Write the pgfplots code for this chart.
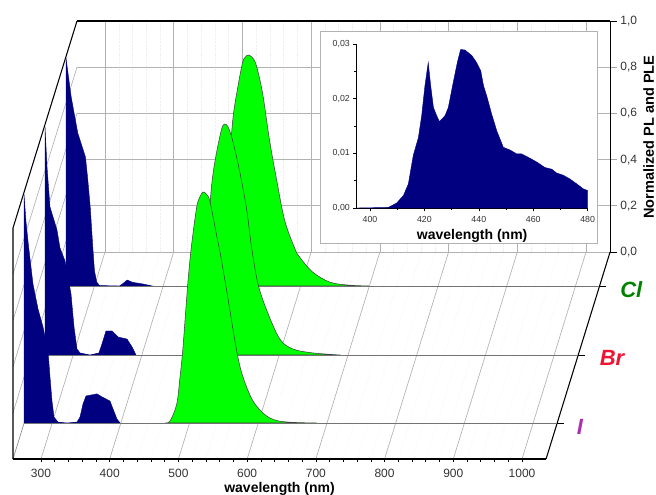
\documentclass[border=0pt]{standalone}
\usepackage{pgfplots}
\pgfplotsset{compat=1.18}
\usepackage{fontspec}
\setmainfont{Liberation Sans}
\definecolor{navyb}{RGB}{0,0,128}
\definecolor{plg}{RGB}{0,255,0}
\definecolor{clg}{RGB}{0,130,0}
\definecolor{brr}{RGB}{240,20,50}
\definecolor{ipp}{RGB}{170,50,170}
\pgfplotsset{
  /pgf/number format/assume math mode=true,
  /pgf/number format/set thousands separator={},
  series/.style={hide axis,clip=false,anchor=south west,xmin=259.25,xmax=1035,ymin=0,ymax=1,
    x={(0.51536pt,0)},y={(0,173.25pt)}},
  ple/.style={fill=navyb,draw=navyb,line width=0.3pt},
  pl/.style={fill=plg,draw=black!75,line width=0.4pt,smooth,tension=0.55},
  baseln/.style={draw=black!55,line width=0.5pt},
}
\begin{document}
\begin{tikzpicture}
\useasboundingbox (0,0) rectangle (492pt,370.5pt);
% back wall
\begin{axis}[at={(57.75pt,181.5pt)},anchor=south west,xmin=259.25,xmax=1035,ymin=0,ymax=1,
  x={(0.51536pt,0)},y={(0,173.25pt)},clip=false,
  xtick={300,400,...,1000},minor x tick num=4,xticklabels={},
  ytick={0,0.2,...,1.01},yticklabels={{0,0},{0,2},{0,4},{0,6},{0,8},{1,0}},
  ytick pos=right,yticklabel pos=right,
  grid=major,minor x tick style={draw=none},
  xminorgrids=true,
  minor grid style={black!8,densely dotted,line width=0.3pt},
  major grid style={black!30,line width=0.5pt},
  axis line style={draw=none},
  x tick style={draw=none},
  y tick style={draw=black!35,line width=0.5pt},
  tick align=outside,major tick length=5.25pt,
  tick label style={font=\fontsize{9}{10}\selectfont,text=black!80},
  yticklabel style={xshift=-1pt},
]
\draw[black,line width=0.8pt] (axis cs:259.25,1)--(axis cs:1035,1);
\draw[black,line width=0.8pt] (axis cs:1035,0)--(axis cs:1035,1);
\draw[black,line width=0.7pt] (axis cs:1035,0)--(axis cs:1045,0);
\draw[black,line width=0.7pt] (axis cs:1035,1)--(axis cs:1045,1);
\draw[black!30,line width=0.5pt] (axis cs:259.25,0)--(axis cs:1035,0);
\end{axis}
% floor
\begin{axis}[at={(9.75pt,26.25pt)},anchor=south west,xmin=259.25,xmax=1035,ymin=0,ymax=1,
  x={(0.51536pt,0)},y={(48pt,155.25pt)},clip=false,
  xtick={300,400,...,1000},minor x tick num=4,xticklabels={},ytick=\empty,
  xmajorgrids=true,xminorgrids=true,
  minor grid style={black!8,densely dotted,line width=0.3pt},
  major grid style={black!30,line width=0.5pt},
  axis line style={draw=none},
  x tick style={draw=none},minor x tick style={draw=none},
]
\draw[black,line width=0.8pt] (axis cs:1035,0)--(axis cs:1035,1);
\draw[black!45,line width=0.5pt] (axis cs:259.25,0)--(axis cs:259.25,1);
\end{axis}
% left wall
\begin{axis}[at={(9.75pt,26.25pt)},anchor=south west,xmin=0,xmax=1,ymin=0,ymax=1,
  x={(48pt,155.25pt)},y={(0,173.25pt)},clip=false,
  ytick={0.2,0.4,0.6,0.8},xtick=\empty,yticklabels={},
  ymajorgrids=true,
  major grid style={black!30,line width=0.5pt},
  axis line style={draw=none},y tick style={draw=none},
]
\draw[black,line width=0.8pt] (axis cs:0,0)--(axis cs:0,1)--(axis cs:1,1);
\end{axis}
% bottom scale
\begin{axis}[at={(9.75pt,26.25pt)},anchor=south west,xmin=259.25,xmax=1035,ymin=0,ymax=1,
  x={(0.51536pt,0)},y={(0,1pt)},
  axis x line=bottom,axis y line=none,axis line style={-,black,line width=0.8pt},
  xtick={300,400,...,1000},minor x tick num=4,
  tick align=outside,major tick length=2.6pt,minor tick length=2.2pt,
  tick style={black,line width=0.5pt},
  tick label style={font=\fontsize{9}{10}\selectfont,text=black!80},
  xticklabel style={yshift=-1.5pt},
  xlabel={\textbf{wavelength (nm)}},
  xlabel style={font=\fontsize{10.5}{12}\selectfont,yshift=3.6pt},
]
\addplot[draw=none] coordinates {(300,0)};
\end{axis}
% Cl
\begin{axis}[series,at={(49.5pt,156pt)}]
\addplot[pl] coordinates {(470,0)(480,0.02)(487,0.15)(495,0.45)(502,0.72)(509.3,0.861)(516,0.965)(520,0.99)(524.4,1)(530,0.99)(536,0.957)(545.3,0.835)(555.4,0.632)(565,0.472)(577.3,0.286)(591.9,0.165)(599,0.126)(618,0.061)(642.8,0.017)(670,0.004)(700,0)} \closedcycle;
\addplot[ple] coordinates {(259.25,0)(259.25,0.987)(266.8,0.818)(276.4,0.662)(287.6,0.558)(291,0.459)(294.5,0.342)(298.3,0.165)(300.7,0.065)(304,0.017)(308,0.002)(337,0)(341.5,0.009)(348.3,0.026)(356,0.016)(370.6,0.009)(385,0)} \closedcycle;
\addplot[baseln] coordinates {(259.25,0)(1035,0)};
\draw[black,line width=0.5pt] (axis cs:1035,0)--(axis cs:1045,0);
\end{axis}
% Br
\begin{axis}[series,at={(33.75pt,104.25pt)}]
\addplot[pl] coordinates {(465.5,0)(473,0.009)(482.5,0.082)(487,0.199)(491,0.312)(495.5,0.485)(500.4,0.69)(504,0.79)(509.6,0.887)(516.5,0.98)(521,1)(526,0.985)(532.9,0.922)(543,0.788)(552.8,0.628)(560,0.463)(569.3,0.307)(582.4,0.19)(601,0.069)(620,0.026)(649,0.009)(689,0)} \closedcycle;
\addplot[ple] coordinates {(259.25,0)(259.25,0.987)(262.2,0.814)(266.5,0.641)(276.7,0.541)(281.1,0.463)(288.4,0.407)(297.1,0.264)(301.5,0.121)(305.8,0.026)(310.2,0.009)(324.7,0)(337.8,0.009)(342.2,0.048)(348,0.104)(356.8,0.104)(365.5,0.078)(378.6,0.069)(385.9,0.035)(391.7,0)} \closedcycle;
\addplot[baseln] coordinates {(259.25,0)(1035,0)};
\draw[black,line width=0.5pt] (axis cs:1035,0)--(axis cs:1045,0);
\end{axis}
% I
\begin{axis}[series,at={(18pt,53.25pt)}]
\addplot[pl] coordinates {(464.5,0)(471.8,0.009)(481.5,0.082)(486.3,0.199)(490.2,0.312)(494.6,0.485)(498.4,0.632)(503.3,0.775)(510.6,0.935)(515.4,0.98)(519.8,1)(525,0.99)(530,0.957)(539.7,0.81)(544.5,0.74)(554.3,0.571)(568.8,0.312)(578,0.199)(592.6,0.095)(612.5,0.03)(636,0.006)(685,0)} \closedcycle;
\addplot[ple] coordinates {(259.25,0)(259.25,0.99)(262.2,0.87)(265.5,0.775)(272.3,0.602)(279.6,0.494)(286.9,0.416)(294.2,0.312)(297.1,0.199)(300,0.095)(302.9,0.026)(308.7,0.004)(321.8,0)(336.4,0.004)(340.8,0.026)(345.1,0.082)(349.5,0.117)(365.5,0.126)(372.8,0.113)(384.4,0.095)(388.8,0.061)(394.6,0.017)(399,0)} \closedcycle;
\addplot[baseln] coordinates {(259.25,0)(1035,0)};
\draw[black,line width=0.5pt] (axis cs:1035,0)--(axis cs:1045,0);
\end{axis}
% labels
\node[font=\fontsize{16.5}{18}\selectfont\bfseries\itshape,text=clg] at (473.5pt,153.5pt) {Cl};
\node[font=\fontsize{16.5}{18}\selectfont\bfseries\itshape,text=brr] at (459pt,102pt) {Br};
\node[font=\fontsize{16.5}{18}\selectfont\bfseries\itshape,text=ipp] at (435pt,50.5pt) {I};
\node[font=\fontsize{10.9}{12}\selectfont\bfseries,rotate=90] at (486.5pt,267.75pt) {Normalized PL and PLE};
% inset
\fill[white] (240pt,188.25pt) rectangle (448.3pt,347.25pt);
\draw[black!30,line width=0.6pt] (240pt,188.25pt) rectangle (448.3pt,347.25pt);
\begin{axis}[at={(267.5pt,214.5pt)},anchor=south west,scale only axis,width=173.25pt,height=123pt,
  xmin=395.1,xmax=480,ymin=0,ymax=0.03,
  axis x line=bottom,axis y line=left,axis line style={-,black,line width=0.5pt},
  xtick={400,420,440,460,480},minor x tick num=1,
  ytick={0,0.01,0.02,0.03},yticklabels={{0,00},{0,01},{0,02},{0,03}},minor y tick num=1,
  tick align=outside,major tick length=2.6pt,minor tick length=1.8pt,
  tick style={black,line width=0.4pt},
  scaled y ticks=false,
  tick label style={font=\fontsize{6.6}{8}\selectfont,text=black!80},
  xticklabel style={yshift=-0.5pt},yticklabel style={xshift=1pt},
  xlabel={\textbf{wavelength (nm)}},
  xlabel style={font=\fontsize{10.5}{12}\selectfont,yshift=2pt},
]
\addplot[fill=navyb,draw=navyb,line width=0.3pt] coordinates {(395.1,0)(406.7,0.0001)(409.8,0.0009)(412.3,0.0023)(414.1,0.0044)(415.9,0.0096)(417.8,0.0129)(419,0.0169)(420.2,0.0224)(421.4,0.0266)(422.3,0.0224)(423.3,0.0184)(424.5,0.0169)(425.5,0.0158)(427.6,0.0169)(428.8,0.0184)(430.6,0.023)(432.1,0.0266)(433.3,0.029)(434.9,0.0289)(437.4,0.0279)(439.2,0.0266)(440.7,0.0251)(441.7,0.0224)(442.9,0.0205)(444.7,0.0172)(446.6,0.0141)(449,0.0111)(451.5,0.0106)(453.9,0.0099)(455.7,0.0099)(458.8,0.0091)(461.3,0.0084)(464.3,0.0074)(466.8,0.0071)(468.6,0.0064)(471,0.006)(473.5,0.0053)(476,0.0044)(478.4,0.0035)(480,0.0032)(480,0)} \closedcycle;
\end{axis}
\end{tikzpicture}
\end{document}
